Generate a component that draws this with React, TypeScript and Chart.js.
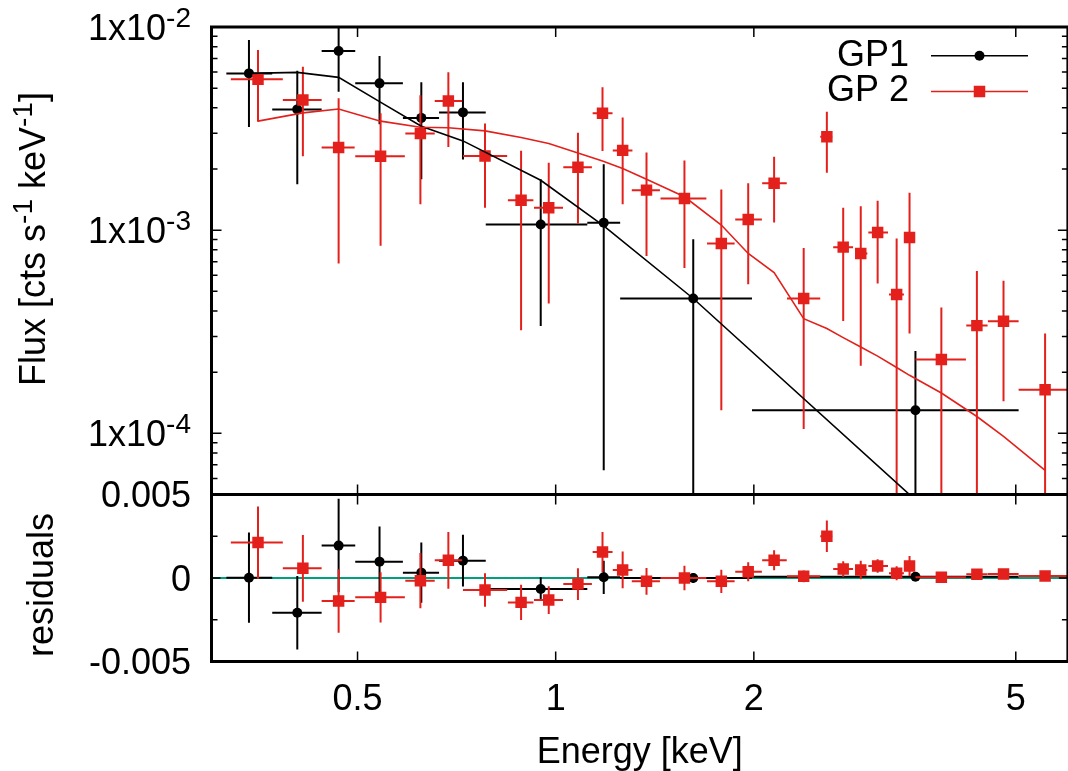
import React, { useEffect, useRef } from "react";
import { Chart, registerables } from "chart.js";

Chart.register(...registerables);

// ---------------- data ----------------
const seriesNames = ["GP1", "GP 2"];

// GP1 (black)
const gp1Energy = [0.342, 0.405, 0.468, 0.540, 0.625, 0.723, 0.949, 1.183, 1.618, 3.52];
const gp1EnergyLo = [0.316, 0.371, 0.441, 0.496, 0.586, 0.665, 0.783, 1.117, 1.253, 1.987];
const gp1EnergyHi = [0.371, 0.441, 0.496, 0.586, 0.665, 0.783, 1.117, 1.253, 1.987, 5.05];
const gp1Flux = [5.91e-3, 3.93e-3, 7.62e-3, 5.28e-3, 3.57e-3, 3.80e-3, 1.067e-3, 1.087e-3, 4.61e-4, 1.30e-4];
const gp1FluxLo = [3.22e-3, 1.685e-3, 4.80e-3, 3.32e-3, 1.78e-3, 2.23e-3, 3.38e-4, 6.58e-5, 1e-6, 1e-6];
const gp1FluxHi = [8.63e-3, 6.09e-3, 1.1e-2, 7.2e-3, 5.34e-3, 5.34e-3, 1.78e-3, 2.11e-3, 9.03e-4, 2.54e-4];
const gp1Model = [5.91e-3, 5.98e-3, 5.65e-3, 4.29e-3, 3.25e-3, 2.75e-3, 1.76e-3, 1.05e-3, 4.61e-4, 4.7e-5];
const gp1Resid = [0.00002, -0.00208, 0.00194, 0.00098, 0.00032, 0.00104, -0.00066, 0.00004, 0.0, 0.00008];
const gp1ResidErr = [0.0027, 0.0022, 0.0028, 0.0021, 0.0018, 0.00155, 0.0007, 0.001, 0.0003, 0.0002];

// GP 2 (red)
const gp2Energy = [0.353, 0.413, 0.468, 0.542, 0.623, 0.687, 0.781, 0.886, 0.976, 1.081, 1.178, 1.264, 1.374, 1.569,
  1.785, 1.961, 2.147, 2.381, 2.582, 2.734, 2.907, 3.084, 3.296, 3.448, 3.854, 4.364, 4.79, 5.54];
const gp2EnergyLo = [0.321, 0.385, 0.441, 0.496, 0.591, 0.655, 0.723, 0.846, 0.927, 1.027, 1.138, 1.221, 1.305, 1.443,
  1.698, 1.874, 2.059, 2.246, 2.523, 2.64, 2.856, 2.985, 3.209, 3.394, 3.52, 4.205, 4.535, 5.05];
const gp2EnergyHi = [0.385, 0.441, 0.495, 0.590, 0.655, 0.721, 0.844, 0.925, 1.026, 1.135, 1.22, 1.308, 1.44, 1.694,
  1.87, 2.057, 2.244, 2.523, 2.631, 2.83, 2.975, 3.198, 3.381, 3.513, 4.20, 4.53, 5.05, 6.05];
const gp2Flux = [5.53e-3, 4.37e-3, 2.55e-3, 2.31e-3, 2.99e-3, 4.32e-3, 2.32e-3, 1.405e-3, 1.29e-3, 2.04e-3, 3.76e-3,
  2.47e-3, 1.574e-3, 1.432e-3, 8.60e-4, 1.129e-3, 1.70e-3, 4.61e-4, 2.88e-3, 8.25e-4, 7.68e-4, 9.74e-4, 4.82e-4,
  9.21e-4, 2.31e-4, 3.39e-4, 3.56e-4, 1.64e-4];
const gp2FluxLo = [3.42e-3, 2.31e-3, 6.86e-4, 8.37e-4, 1.34e-3, 2.57e-3, 1.29e-3, 3.22e-4, 4.35e-4, 1.08e-3, 2.45e-3,
  1.34e-3, 7.47e-4, 6.52e-4, 1.30e-4, 5.42e-4, 1.09e-3, 1.05e-4, 1.915e-3, 3.57e-4, 2.15e-4, 5.46e-4, 1e-6,
  3.1e-4, 1e-6, 1e-6, 1.44e-4, 1e-6];
const gp2FluxHi = [7.7e-3, 6.37e-3, 4.46e-3, 3.76e-3, 4.62e-3, 5.98e-3, 3.35e-3, 2.46e-3, 2.15e-3, 3.02e-3, 5.05e-3,
  3.59e-3, 2.41e-3, 2.20e-3, 1.586e-3, 1.70e-3, 2.30e-3, 8.18e-4, 3.83e-3, 1.29e-3, 1.31e-3, 1.394e-3, 9.10e-4,
  1.527e-3, 4.16e-4, 6.3e-4, 5.63e-4, 3.1e-4];
const gp2Model = [3.44e-3, 3.78e-3, 3.95e-3, 3.44e-3, 3.21e-3, 3.19e-3, 3.08e-3, 2.86e-3, 2.67e-3, 2.40e-3, 2.19e-3,
  2.01e-3, 1.78e-3, 1.46e-3, 1.06e-3, 7.68e-4, 6.19e-4, 3.67e-4, 3.28e-4, 2.96e-4, 2.66e-4, 2.40e-4, 2.11e-4,
  1.93e-4, 1.58e-4, 1.21e-4, 9.66e-5, 6.58e-5];
const gp2Resid = [0.00212, 0.00058, -0.00138, -0.00116, -0.00016, 0.00106, -0.00072, -0.00146, -0.00132, -0.00036,
  0.00156, 0.00048, -0.0002, 0.0, -0.0002, 0.00038, 0.00106, 0.0001, 0.0025, 0.00054, 0.00048, 0.00072, 0.00028,
  0.00072, 0.00004, 0.00022, 0.00024, 0.00012];
const gp2ResidErr = [0.00216, 0.002, 0.0019, 0.0015, 0.00165, 0.0017, 0.001, 0.00105, 0.00083, 0.00095, 0.0012,
  0.0011, 0.0008, 0.00074, 0.0007, 0.00057, 0.0006, 0.00035, 0.00095, 0.00047, 0.00055, 0.0004, 0.00042, 0.0006,
  0.00025, 0.00025, 0.00025, 0.00025];

// axes
const energyRange = [0.3, 6];
const fluxRange = [5e-5, 1e-2];
const residRange = [-0.005, 0.005];
const xTicks = [0.5, 1, 2, 5];
const xTickLabels = ["0.5", "1", "2", "5"];
const fluxTicks = [1e-2, 1e-3, 1e-4];
const fluxTickMantissa = ["1x10", "1x10", "1x10"];
const fluxTickExps = ["-2", "-3", "-4"];
const residTicks = [0.005, 0, -0.005];
const residTickLabels = ["0.005", "0", "-0.005"];
const residMinorTicks = [0.0025, -0.0025];
const xTitle = "Energy [keV]";
const residTitle = "residuals";

// ---------------- styling / geometry ----------------
const CW = 1076;
const CH = 771;
const L = 211.5;
const R = 1071.5;
const T = 27;
const MID = 494.5;
const B = 661.5;
const BLACK = "#000000";
const RED = "#e3201b";
const TEAL = "#00a07c";
const FONT = '"Liberation Sans", Arial, Helvetica, sans-serif';
const BASE = 36;
const SUP = 28;
const RAISE = 13;

type Part = { t: string; sup?: boolean };

function richWidth(ctx: CanvasRenderingContext2D, parts: Part[]) {
  let w = 0;
  for (const p of parts) {
    ctx.font = `${p.sup ? SUP : BASE}px ${FONT}`;
    w += ctx.measureText(p.t).width;
  }
  return w;
}

function drawRich(ctx: CanvasRenderingContext2D, parts: Part[], x: number, y: number, align: string) {
  const w = richWidth(ctx, parts);
  let cx = align === "right" ? x - w : align === "center" ? x - w / 2 : x;
  ctx.textAlign = "left";
  ctx.textBaseline = "alphabetic";
  for (const p of parts) {
    ctx.font = `${p.sup ? SUP : BASE}px ${FONT}`;
    ctx.fillText(p.t, cx, p.sup ? y - RAISE : y);
    cx += ctx.measureText(p.t).width;
  }
}

type Bars = { x: number[]; xlo: number[]; xhi: number[]; y: number[]; ylo: number[]; yhi: number[]; color: string };

function errorBarPlugin(map: Record<number, Bars>) {
  return {
    id: "errbars",
    beforeDatasetDraw(chart: any, args: any) {
      const b = map[args.index];
      if (!b) return;
      const { ctx, chartArea: a, scales } = chart;
      const xs = scales.x;
      const ys = scales.y;
      ctx.save();
      ctx.beginPath();
      ctx.rect(a.left, a.top, a.right - a.left, a.bottom - a.top);
      ctx.clip();
      ctx.strokeStyle = b.color;
      ctx.lineWidth = 2;
      ctx.beginPath();
      for (let i = 0; i < b.x.length; i++) {
        const px = xs.getPixelForValue(b.x[i]);
        const py = ys.getPixelForValue(b.y[i]);
        ctx.moveTo(xs.getPixelForValue(b.xlo[i]), py);
        ctx.lineTo(xs.getPixelForValue(b.xhi[i]), py);
        ctx.moveTo(px, ys.getPixelForValue(b.ylo[i]));
        ctx.lineTo(px, ys.getPixelForValue(b.yhi[i]));
      }
      ctx.stroke();
      ctx.restore();
    },
  };
}

function drawXTicks(ctx: CanvasRenderingContext2D, xs: any, a: any) {
  for (const v of xTicks) {
    const px = xs.getPixelForValue(v);
    ctx.moveTo(px, a.top);
    ctx.lineTo(px, a.top + 10);
    ctx.moveTo(px, a.bottom);
    ctx.lineTo(px, a.bottom - 10);
  }
}

const topAxesPlugin = {
  id: "topAxes",
  afterDraw(chart: any) {
    const { ctx, chartArea: a, scales } = chart;
    const xs = scales.x;
    const ys = scales.y;
    ctx.save();
    ctx.strokeStyle = BLACK;
    ctx.fillStyle = BLACK;
    ctx.lineWidth = 1.5;
    ctx.beginPath();
    drawXTicks(ctx, xs, a);
    for (const v of fluxTicks) {
      const py = ys.getPixelForValue(v);
      ctx.moveTo(a.left, py);
      ctx.lineTo(a.left + 10, py);
      ctx.moveTo(a.right, py);
      ctx.lineTo(a.right - 10, py);
    }
    for (let e = -5; e <= -3; e++) {
      for (let k = 2; k <= 9; k++) {
        const v = k * Math.pow(10, e);
        if (v <= fluxRange[0] || v >= fluxRange[1]) continue;
        const py = ys.getPixelForValue(v);
        ctx.moveTo(a.left, py);
        ctx.lineTo(a.left + 6, py);
        ctx.moveTo(a.right, py);
        ctx.lineTo(a.right - 6, py);
      }
    }
    ctx.stroke();
    ctx.lineWidth = 3;
    ctx.strokeRect(a.left, a.top, a.right - a.left, a.bottom - a.top);

    // y tick labels
    fluxTicks.forEach((v, i) => {
      const py = ys.getPixelForValue(v);
      drawRich(ctx, [{ t: fluxTickMantissa[i] }, { t: fluxTickExps[i], sup: true }], 191, py + 12.5, "right");
    });

    // y title
    ctx.save();
    ctx.translate(45, 239);
    ctx.rotate(-Math.PI / 2);
    drawRich(
      ctx,
      [{ t: "Flux [cts s" }, { t: "-1", sup: true }, { t: " keV" }, { t: "-1", sup: true }, { t: "]" }],
      0,
      0,
      "center"
    );
    ctx.restore();

    // legend
    ctx.font = `${BASE}px ${FONT}`;
    ctx.textAlign = "right";
    ctx.textBaseline = "middle";
    ctx.fillText(seriesNames[0], 909, 56);
    ctx.fillText(seriesNames[1], 909, 91.5);
    ctx.lineWidth = 1.6;
    ctx.strokeStyle = BLACK;
    ctx.beginPath();
    ctx.moveTo(931, 55.7);
    ctx.lineTo(1028, 55.7);
    ctx.stroke();
    ctx.beginPath();
    ctx.arc(979.5, 55.7, 5, 0, Math.PI * 2);
    ctx.fill();
    ctx.strokeStyle = RED;
    ctx.fillStyle = RED;
    ctx.beginPath();
    ctx.moveTo(931, 91.5);
    ctx.lineTo(1028, 91.5);
    ctx.stroke();
    ctx.fillRect(979.5 - 5.75, 91.5 - 5.75, 11.5, 11.5);
    ctx.restore();
  },
};

const bottomAxesPlugin = {
  id: "bottomAxes",
  afterDraw(chart: any) {
    const { ctx, chartArea: a, scales } = chart;
    const xs = scales.x;
    const ys = scales.y;
    ctx.save();
    ctx.strokeStyle = BLACK;
    ctx.fillStyle = BLACK;
    ctx.lineWidth = 1.5;
    ctx.beginPath();
    drawXTicks(ctx, xs, a);
    for (const v of residTicks) {
      const py = ys.getPixelForValue(v);
      ctx.moveTo(a.left, py);
      ctx.lineTo(a.left + 9, py);
      ctx.moveTo(a.right, py);
      ctx.lineTo(a.right - 9, py);
    }
    for (const v of residMinorTicks) {
      const py = ys.getPixelForValue(v);
      ctx.moveTo(a.left, py);
      ctx.lineTo(a.left + 6, py);
      ctx.moveTo(a.right, py);
      ctx.lineTo(a.right - 6, py);
    }
    ctx.stroke();
    ctx.lineWidth = 3;
    ctx.strokeRect(a.left, a.top, a.right - a.left, a.bottom - a.top);

    ctx.font = `${BASE}px ${FONT}`;
    ctx.textBaseline = "alphabetic";
    ctx.textAlign = "right";
    residTicks.forEach((v, i) => {
      const py = ys.getPixelForValue(v);
      ctx.fillText(residTickLabels[i], 191, py + 12.5);
    });
    ctx.textAlign = "center";
    xTicks.forEach((v, i) => {
      const px = xs.getPixelForValue(v);
      ctx.fillText(xTickLabels[i], px, 710);
    });
    ctx.fillText(xTitle, (a.left + a.right) / 2, 763);

    ctx.save();
    ctx.translate(53, 585);
    ctx.rotate(-Math.PI / 2);
    ctx.textAlign = "center";
    ctx.fillText(residTitle, 0, 0);
    ctx.restore();
    ctx.restore();
  },
};

function pts(xs: number[], ys: number[]) {
  return xs.map((x, i) => ({ x, y: ys[i] }));
}

function topConfig(): any {
  return {
    type: "scatter",
    data: {
      datasets: [
        { label: "GP 2 model", data: pts(gp2Energy, gp2Model), showLine: true, borderColor: RED, borderWidth: 1.6, pointRadius: 0, fill: false, tension: 0 },
        { label: "GP1 model", data: pts(gp1Energy, gp1Model), showLine: true, borderColor: BLACK, borderWidth: 1.6, pointRadius: 0, fill: false, tension: 0 },
        { label: seriesNames[1], data: pts(gp2Energy, gp2Flux), pointStyle: "rect", pointRadius: 8.1, backgroundColor: RED, borderWidth: 0 },
        { label: seriesNames[0], data: pts(gp1Energy, gp1Flux), pointStyle: "circle", pointRadius: 5, backgroundColor: BLACK, borderWidth: 0 },
      ],
    },
    options: {
      responsive: false,
      animation: false,
      events: [],
      layout: { padding: { left: L, right: CW - R, top: T, bottom: CH - MID } },
      plugins: { legend: { display: false }, tooltip: { enabled: false } },
      scales: {
        x: { type: "logarithmic", min: energyRange[0], max: energyRange[1], display: false },
        y: { type: "logarithmic", min: fluxRange[0], max: fluxRange[1], display: false },
      },
    },
    plugins: [
      errorBarPlugin({
        2: { x: gp2Energy, xlo: gp2EnergyLo, xhi: gp2EnergyHi, y: gp2Flux, ylo: gp2FluxLo, yhi: gp2FluxHi, color: RED },
        3: { x: gp1Energy, xlo: gp1EnergyLo, xhi: gp1EnergyHi, y: gp1Flux, ylo: gp1FluxLo, yhi: gp1FluxHi, color: BLACK },
      }),
      topAxesPlugin,
    ],
  };
}

function bottomConfig(): any {
  return {
    type: "scatter",
    data: {
      datasets: [
        { label: seriesNames[1], data: pts(gp2Energy, gp2Resid), pointStyle: "rect", pointRadius: 8.1, backgroundColor: RED, borderWidth: 0 },
        { label: seriesNames[0], data: pts(gp1Energy, gp1Resid), pointStyle: "circle", pointRadius: 5, backgroundColor: BLACK, borderWidth: 0 },
        { label: "zero", data: pts(energyRange, [0, 0]), showLine: true, borderColor: TEAL, borderWidth: 2, pointRadius: 0, fill: false },
      ],
    },
    options: {
      responsive: false,
      animation: false,
      events: [],
      layout: { padding: { left: L, right: CW - R, top: MID, bottom: CH - B } },
      plugins: { legend: { display: false }, tooltip: { enabled: false } },
      scales: {
        x: { type: "logarithmic", min: energyRange[0], max: energyRange[1], display: false },
        y: { type: "linear", min: residRange[0], max: residRange[1], display: false },
      },
    },
    plugins: [
      errorBarPlugin({
        0: {
          x: gp2Energy, xlo: gp2EnergyLo, xhi: gp2EnergyHi, y: gp2Resid,
          ylo: gp2Resid.map((r, i) => r - gp2ResidErr[i]), yhi: gp2Resid.map((r, i) => r + gp2ResidErr[i]), color: RED,
        },
        1: {
          x: gp1Energy, xlo: gp1EnergyLo, xhi: gp1EnergyHi, y: gp1Resid,
          ylo: gp1Resid.map((r, i) => r - gp1ResidErr[i]), yhi: gp1Resid.map((r, i) => r + gp1ResidErr[i]), color: BLACK,
        },
      }),
      bottomAxesPlugin,
    ],
  };
}

export default function App() {
  const topRef = useRef<HTMLCanvasElement>(null);
  const botRef = useRef<HTMLCanvasElement>(null);
  useEffect(() => {
    const top = new Chart(topRef.current as HTMLCanvasElement, topConfig());
    const bot = new Chart(botRef.current as HTMLCanvasElement, bottomConfig());
    return () => {
      top.destroy();
      bot.destroy();
    };
  }, []);
  return (
    <div style={{ position: "fixed", left: 0, top: 0, width: 1068, height: 771, overflow: "hidden", background: "#ffffff" }}>
      <canvas ref={topRef} width={CW} height={CH} style={{ position: "absolute", left: 0, top: 0, width: CW, height: CH }} />
      <canvas ref={botRef} width={CW} height={CH} style={{ position: "absolute", left: 0, top: 0, width: CW, height: CH }} />
    </div>
  );
}
